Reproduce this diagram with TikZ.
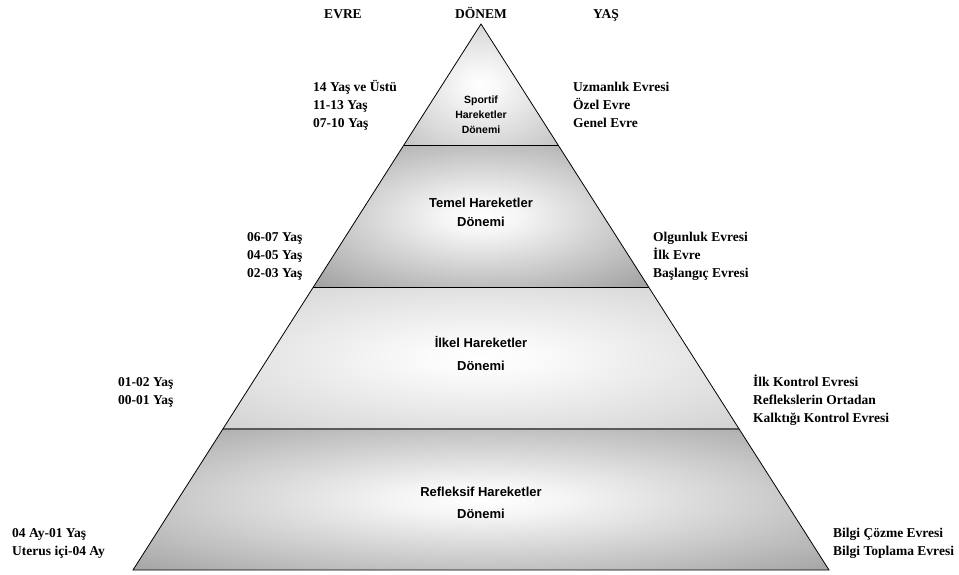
\documentclass[tikz,border=0pt]{standalone}
\usepackage{fontspec}
\setmainfont{Liberation Serif}
\newfontfamily\arialfont{Liberation Sans}
\usetikzlibrary{calc}
\pgfdeclareradialshading{glowA}{\pgfpoint{0bp}{0bp}}{rgb(0bp)=(1,1,1); rgb(6bp)=(0.97,0.97,0.97); rgb(34bp)=(0.78,0.78,0.78); rgb(100bp)=(0.76,0.76,0.76)}
\pgfdeclareradialshading{glowB}{\pgfpoint{0bp}{0bp}}{rgb(0bp)=(1,1,1); rgb(6bp)=(0.96,0.96,0.96); rgb(34bp)=(0.64,0.64,0.64); rgb(100bp)=(0.60,0.60,0.60)}
\pgfdeclareradialshading{glowC}{\pgfpoint{0bp}{0bp}}{rgb(0bp)=(1,1,1); rgb(6bp)=(0.98,0.98,0.98); rgb(34bp)=(0.83,0.83,0.83); rgb(100bp)=(0.81,0.81,0.81)}
\pgfdeclareradialshading{glowD}{\pgfpoint{0bp}{0bp}}{rgb(0bp)=(1,1,1); rgb(6bp)=(0.96,0.96,0.96); rgb(34bp)=(0.66,0.66,0.66); rgb(100bp)=(0.63,0.63,0.63)}
\begin{document}
\begin{tikzpicture}[x=1pt,y=-1pt,
  lbl/.style={font=\fontsize{13.5}{18}\selectfont\bfseries, inner sep=0pt, anchor=base west},
  hdr/.style={font=\fontsize{13.5}{18}\selectfont\bfseries, inner sep=0pt, anchor=base},
  inner/.style={font=\arialfont\fontsize{13}{19}\selectfont\bfseries, inner sep=0pt, anchor=base},
  smallinner/.style={font=\arialfont\fontsize{10.5}{15}\selectfont\bfseries, inner sep=0pt, anchor=base},
  outline/.style={draw=black, line width=0.8pt, line join=miter}]
\useasboundingbox (0,0) rectangle (959,574);
% geometry
\coordinate (A) at (481,24);
\coordinate (BL) at (133,570);
\coordinate (BR) at (829,570);
\coordinate (L1) at ($(A)!0.2216!(BL)$);
\coordinate (R1) at ($(A)!0.2216!(BR)$);
\coordinate (L2) at ($(A)!0.4817!(BL)$);
\coordinate (R2) at ($(A)!0.4817!(BR)$);
\coordinate (L3) at ($(A)!0.7418!(BL)$);
\coordinate (R3) at ($(A)!0.7418!(BR)$);
% bands
\shade[shading=glowA] (A) -- (R1) -- (L1) -- cycle;
\shade[shading=glowB] (L1) -- (R1) -- (R2) -- (L2) -- cycle;
\shade[shading=glowC] (L2) -- (R2) -- (R3) -- (L3) -- cycle;
\shade[shading=glowD] (L3) -- (R3) -- (BR) -- (BL) -- cycle;
% separators
\draw[black, line width=0.8pt] (L1) -- (R1);
\draw[black, line width=1pt] (L2) -- (R2);
\draw[black!65, line width=1.8pt] (L3) -- (R3);
\draw[outline] (A) -- (BR) -- (BL) -- cycle;
% headers
\node[hdr] (hEvre) at (343,18.5) {EVRE};
\node[hdr] (hDonem) at (481,18.5) {DÖNEM};
\node[hdr] (hYas) at (606,18.5) {YAŞ};
% band 1
\node[smallinner] (s1) at (481,103) {Sportif};
\node[smallinner] (s2) at (481,118) {Hareketler};
\node[smallinner] (s3) at (481,133) {Dönemi};
\node[lbl] (a1) at (313,91.5) {14 Yaş ve Üstü};
\node[lbl] (a2) at (313,109.5) {11-13 Yaş};
\node[lbl] (a3) at (313,127.5) {07-10 Yaş};
\node[lbl] (b1) at (573,91.5) {Uzmanlık Evresi};
\node[lbl] (b2) at (573,109.5) {Özel Evre};
\node[lbl] (b3) at (573,127.5) {Genel Evre};
% band 2
\node[inner] (t1) at (481,207.7) {Temel Hareketler};
\node[inner] (t2) at (481,226.7) {Dönemi};
\node[lbl] (c1) at (247,241.5) {06-07 Yaş};
\node[lbl] (c2) at (247,259.5) {04-05 Yaş};
\node[lbl] (c3) at (247,277.5) {02-03 Yaş};
\node[lbl] (d1) at (653,241.5) {Olgunluk Evresi};
\node[lbl] (d2) at (653,259.5) {İlk Evre};
\node[lbl] (d3) at (653,277.5) {Başlangıç Evresi};
% band 3
\node[inner] (i1) at (481,347.7) {İlkel Hareketler};
\node[inner] (i2) at (481,370.7) {Dönemi};
\node[lbl] (e1) at (118,386.5) {01-02 Yaş};
\node[lbl] (e2) at (118,404.5) {00-01 Yaş};
\node[lbl] (f1) at (753,386.5) {İlk Kontrol Evresi};
\node[lbl] (f2) at (753,404.5) {Reflekslerin Ortadan};
\node[lbl] (f3) at (753,422.5) {Kalktığı Kontrol Evresi};
% band 4
\node[inner] (r1) at (481,496.7) {Refleksif Hareketler};
\node[inner] (r2) at (481,518.7) {Dönemi};
\node[lbl] (g1) at (12,537.5) {04 Ay-01 Yaş};
\node[lbl] (g2) at (12,555.5) {Uterus içi-04 Ay};
\node[lbl] (h1) at (833,537.5) {Bilgi Çözme Evresi};
\node[lbl] (h2) at (833,555.5) {Bilgi Toplama Evresi};
\end{tikzpicture}
\end{document}
